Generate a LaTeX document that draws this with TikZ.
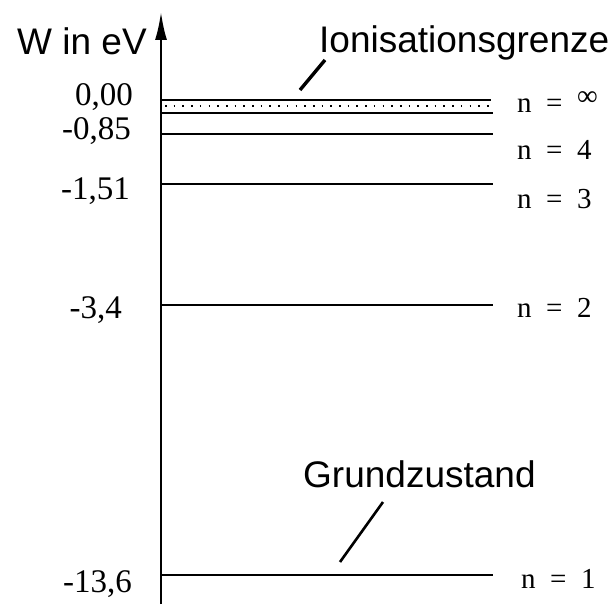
\documentclass[tikz,border=0pt]{standalone}
\usepackage{fontspec}
\setmainfont{Liberation Serif}
\setsansfont{Liberation Sans}
\usetikzlibrary{arrows.meta}
\tikzset{
  level/.style={line width=2pt},
  dotlevel/.style={line width=1.6pt, dash pattern=on 1.6pt off 7.1pt},
  numlabel/.style={anchor=base east, inner sep=0pt, font=\fontsize{33}{36}\selectfont},
  nlabel/.style={anchor=base west, inner sep=0pt, font=\fontsize{29}{32}\selectfont},
  txtlabel/.style={anchor=base west, inner sep=0pt, font=\sffamily\fontsize{37}{40}\selectfont},
  leader/.style={line width=3.4pt}
}
\newcommand{\nlevel}[1]{n\enspace=\enspace#1}
\begin{document}
\begin{tikzpicture}[x=1pt,y=-1pt]
    \useasboundingbox (0,0) rectangle (612,604);

    % energy axis
    \coordinate (axbot) at (161,604);
    \coordinate (axtop) at (161,12);
    \draw[line width=2.2pt, -{Latex[length=28pt,width=12pt]}] (axbot) -- (axtop);
    \node[txtlabel] (wlabel) at (17,55) {W in eV};

    % energy levels
    \foreach \name/\y/\xend in {inf/100/491, ion/113/493, four/134/493, three/184/493, two/305/493, one/575/493} {
        \coordinate (\name a) at (161,\y);
        \coordinate (\name b) at (\xend,\y);
        \draw[level] (\name a) -- (\name b);
    }
    \coordinate (dota) at (165,106);
    \coordinate (dotb) at (490,106);
    \draw[dotlevel] (dota) -- (dotb);

    % energy values
    \node[numlabel] (wzero) at (133,106) {0,00};
    \node[numlabel] (wfour) at (131,140) {-0,85};
    \node[numlabel] (wthree) at (130,199) {-1,51};
    \node[numlabel] (wtwo) at (122,318) {-3,4};
    \node[numlabel] (wone) at (132,592) {-13,6};

    % quantum numbers
    \node[nlabel] (ninf) at (517,113) {\nlevel{\raisebox{0.25em}{∞}}};
    \node[nlabel] (nfour) at (517,160) {\nlevel{4}};
    \node[nlabel] (nthree) at (517,208) {\nlevel{3}};
    \node[nlabel] (ntwo) at (517,317) {\nlevel{2}};
    \node[nlabel] (none) at (521,588) {\nlevel{1}};

    % annotations
    \node[txtlabel] (ionlabel) at (319,53) {Ionisationsgrenze};
    \coordinate (ionfoot) at (300,90);
    \coordinate (ionhead) at (325,60);
    \draw[leader] (ionfoot) -- (ionhead);

    \node[txtlabel] (gzlabel) at (303,487) {Grundzustand};
    \coordinate (gzfoot) at (340,562);
    \coordinate (gzhead) at (383,502);
    \draw[leader, line width=2.6pt] (gzfoot) -- (gzhead);
\end{tikzpicture}
\end{document}
